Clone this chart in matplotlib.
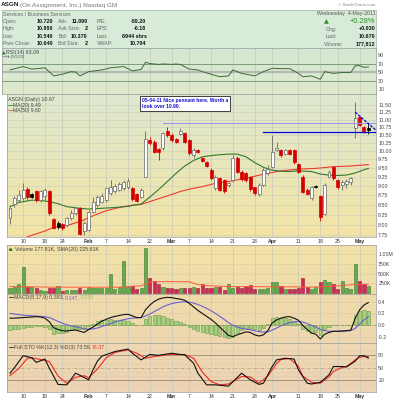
import numpy as np
import matplotlib
matplotlib.use("Agg")
import matplotlib.pyplot as plt
import matplotlib.colors as mcolors
from matplotlib.patches import Rectangle
from matplotlib.ticker import FixedLocator, NullLocator, FixedFormatter
from matplotlib.textpath import TextPath
from matplotlib.font_manager import FontProperties

plt.rcParams['font.family'] = ['Liberation Sans', 'DejaVu Sans']

# ---------------- daily data: ASGN, 5-Jan-2011 .. 4-May-2011 ----------------
opens = [8.16, 8.52, 8.62, 8.67, 8.91, 8.77, 8.85, 8.62, 8.73, 8.85,
         8.14, 8.05, 8.01, 7.99, 8.16, 8.28, 8.41, 7.85, 7.87, 8.32,
         8.49, 8.58, 8.62, 8.82, 8.85, 8.89, 8.94, 8.96, 8.94, 8.78,
         8.71, 9.26, 10.34, 10.29, 10.06, 10.09, 10.64, 10.50, 10.38, 10.54,
         10.55, 10.34, 9.88, 10.04, 9.80, 9.69, 9.44, 8.94, 9.21, 9.15,
         9.03, 9.16, 9.80, 9.40, 9.35, 9.24, 8.96, 8.78, 9.03, 9.35,
         9.54, 10.04, 10.04, 9.92, 10.02, 10.02, 9.62, 9.26, 8.90, 8.67,
         9.00, 8.73, 8.27, 9.26, 9.52, 9.16, 9.03, 9.05, 9.11, 10.74,
         11.08, 10.76, 10.72]
highs = [8.45, 8.73, 8.89, 9.07, 8.98, 8.80, 8.90, 8.88, 8.94, 8.89,
         8.16, 8.08, 8.05, 8.20, 8.37, 8.45, 8.45, 8.10, 8.37, 8.71,
         8.76, 8.80, 8.98, 9.16, 9.05, 9.10, 9.16, 9.21, 8.98, 8.82,
         8.94, 10.62, 10.45, 10.34, 10.09, 10.60, 10.77, 10.55, 10.42, 10.71,
         10.60, 10.36, 10.09, 10.07, 9.83, 9.71, 9.49, 9.30, 9.26, 9.18,
         9.10, 9.88, 9.85, 9.44, 9.38, 9.28, 8.98, 9.07, 9.49, 9.60,
         10.50, 10.29, 10.07, 10.08, 10.05, 10.05, 9.65, 9.30, 8.93, 9.00,
         9.02, 8.76, 9.07, 9.44, 9.56, 9.18, 9.16, 9.18, 9.25, 11.62,
         11.12, 10.80, 10.89]
lows = [8.03, 8.45, 8.58, 8.62, 8.65, 8.67, 8.58, 8.58, 8.62, 8.24,
        7.90, 7.90, 7.88, 7.95, 8.12, 8.24, 7.75, 7.76, 7.85, 8.28,
        8.45, 8.54, 8.58, 8.76, 8.80, 8.85, 8.89, 8.92, 8.60, 8.56,
        8.67, 9.24, 10.20, 9.93, 9.73, 10.04, 10.45, 10.29, 10.24, 10.50,
        10.24, 9.88, 9.78, 9.93, 9.69, 9.52, 9.16, 8.89, 8.85, 8.82,
        8.98, 9.12, 9.35, 9.14, 9.12, 8.87, 8.76, 8.74, 9.00, 9.30,
        9.50, 10.00, 9.83, 9.88, 9.88, 9.62, 9.36, 8.80, 8.76, 8.63,
        8.95, 8.08, 8.24, 9.22, 9.16, 8.92, 8.89, 8.95, 9.02, 10.40,
        10.80, 10.55, 10.54]
closes = [8.41, 8.67, 8.76, 8.89, 8.69, 8.70, 8.62, 8.85, 8.90, 8.28,
          7.93, 7.95, 7.92, 8.16, 8.30, 8.41, 7.78, 8.05, 8.32, 8.58,
          8.69, 8.73, 8.94, 8.98, 8.99, 9.05, 9.12, 9.14, 8.64, 8.60,
          8.89, 10.39, 10.26, 9.98, 9.97, 10.55, 10.50, 10.33, 10.29, 10.63,
          10.29, 9.93, 10.04, 9.97, 9.71, 9.57, 9.21, 9.26, 8.89, 8.86,
          9.07, 9.78, 9.40, 9.18, 9.15, 8.91, 8.80, 9.03, 9.44, 9.46,
          9.98, 10.09, 9.87, 10.04, 9.92, 9.67, 9.40, 8.83, 8.79, 8.96,
          8.97, 8.20, 9.03, 9.38, 9.21, 8.96, 9.12, 9.14, 9.21, 11.07,
          10.82, 10.64, 10.67]
volume_k = [138, 164, 232, 663, 164, 164, 120, 77, 60, 138,
            138, 181, 52, 77, 77, 77, 138, 77, 164, 120,
            120, 120, 138, 491, 95, 164, 827, 164, 190, 95,
            120, 1154, 379, 310, 224, 164, 138, 138, 95, 138,
            138, 120, 164, 120, 224, 138, 120, 164, 164, 77,
            224, 120, 146, 120, 190, 207, 95, 103, 95, 120,
            293, 293, 190, 103, 103, 103, 120, 379, 164, 95,
            164, 276, 336, 276, 224, 95, 310, 120, 95, 740,
            310, 232, 178]

# overlays / indicators (session index, value)
ma20_idx = [0, 2, 5, 8, 11, 13, 16, 18, 21, 24, 27, 30, 32, 34, 36, 38, 40, 42, 44, 47,
            50, 52, 54, 56, 58, 60, 62, 64, 66, 69, 71, 73, 75, 77, 79, 81, 82]
ma20_val = [8.45, 8.56, 8.62, 8.60, 8.53, 8.45, 8.41, 8.39, 8.41, 8.43, 8.46, 8.52, 8.70, 8.90,
            9.12, 9.35, 9.56, 9.72, 9.83, 9.88, 9.91, 9.91, 9.83, 9.66, 9.52, 9.44, 9.41, 9.40,
            9.42, 9.40, 9.33, 9.30, 9.29, 9.30, 9.36, 9.45, 9.49]
ma50_idx = [1, 5, 8, 10, 13, 16, 19, 22, 25, 28, 30, 33, 36, 39, 41, 44, 47, 51, 55, 59,
            62, 66, 70, 74, 78, 82]
ma50_val = [7.60, 7.75, 7.85, 7.94, 7.98, 8.08, 8.22, 8.35, 8.43, 8.49, 8.51, 8.62, 8.73, 8.85,
            8.91, 8.98, 9.07, 9.14, 9.24, 9.35, 9.42, 9.47, 9.49, 9.54, 9.56, 9.60]
vsma_idx = [0, 5, 10, 15, 20, 25, 28, 30, 31, 32, 35, 38, 41, 43, 45, 50, 55, 60, 65, 68,
            72, 75, 79, 82]
vsma_val = [165, 160, 150, 150, 150, 150, 175, 185, 230, 290, 293, 293, 290, 215, 190, 165,
            165, 160, 160, 150, 165, 185, 220, 225.61]
rsi_idx = [0, 3, 5, 8, 10, 12, 14, 15, 16, 18, 21, 23, 26, 28, 30, 31, 32, 34, 35, 37,
           38, 39, 41, 43, 44, 46, 48, 50, 51, 53, 56, 58, 60, 62, 64, 66, 67, 69, 71, 72,
           74, 76, 78, 79, 80, 81, 82]
rsi_val = [56, 64, 58, 61, 42, 46, 52, 51, 42, 52, 56, 61, 64, 54, 57, 74, 71, 69, 70, 69,
           70, 69, 58, 56, 52, 46, 40, 42, 56, 48, 42, 52, 60, 59, 59, 48, 40, 42, 34, 52,
           48, 50, 50, 66, 66, 62, 63.09]
macd_line = [0.12, 0.12, 0.125, 0.13, 0.135, 0.14, 0.145, 0.14, 0.12, 0.06,
             -0.04, -0.07, -0.09, -0.095, -0.085, -0.08, -0.10, -0.12, -0.07, -0.03,
             0.02, 0.07, 0.10, 0.13, 0.15, 0.165, 0.18, 0.185, 0.16, 0.13,
             0.13, 0.26, 0.34, 0.40, 0.44, 0.46, 0.47, 0.465, 0.45, 0.44,
             0.42, 0.37, 0.31, 0.25, 0.20, 0.15, 0.10, 0.04, -0.03, -0.10,
             -0.17, -0.19, -0.16, -0.135, -0.11, -0.12, -0.16, -0.18, -0.16, -0.09,
             0.04, 0.09, 0.12, 0.14, 0.145, 0.12, 0.085, 0.0, -0.07, -0.13,
             -0.15, -0.23, -0.15, -0.12, -0.10, -0.10, -0.095, -0.09, -0.08, 0.12,
             0.26, 0.34, 0.383]
macd_signal = [0.20, 0.19, 0.18, 0.17, 0.165, 0.16, 0.155, 0.15, 0.145, 0.13,
               0.10, 0.065, 0.035, 0.01, -0.01, -0.025, -0.04, -0.06, -0.065, -0.06,
               -0.045, -0.02, 0.005, 0.03, 0.055, 0.075, 0.095, 0.11, 0.12, 0.125,
               0.13, 0.155, 0.19, 0.23, 0.27, 0.31, 0.34, 0.365, 0.38, 0.39,
               0.395, 0.39, 0.375, 0.35, 0.32, 0.285, 0.245, 0.20, 0.15, 0.10,
               0.045, 0.0, -0.03, -0.05, -0.065, -0.075, -0.09, -0.105, -0.115, -0.11,
               -0.08, -0.045, -0.01, 0.02, 0.045, 0.06, 0.065, 0.055, 0.03, 0.0,
               -0.03, -0.07, -0.09, -0.10, -0.10, -0.10, -0.10, -0.095, -0.09, -0.05,
               0.02, 0.09, 0.147]
stok_idx = [0, 1, 3, 5, 6, 8, 9, 11, 13, 15, 16, 18, 19, 20, 21, 24, 27, 28, 30, 32,
            34, 37, 39, 40, 42, 43, 45, 47, 50, 53, 55, 57, 58, 60, 61, 63, 65, 66, 68, 69,
            71, 73, 74, 76, 77, 79, 80, 81, 82]
stok_val = [37, 50, 79, 74, 63, 71, 49, 10, 9, 37, 32, 21, 45, 66, 78, 89, 95, 85, 69, 82,
            80, 85, 82, 81, 61, 37, 9, 9, 6, 37, 21, 10, 13, 53, 69, 73, 71, 45, 13, 11,
            15, 33, 53, 53, 52, 66, 79, 79, 73.59]
stod_idx = [0, 2, 4, 5, 7, 9, 11, 13, 15, 17, 18, 20, 22, 24, 27, 29, 31, 33, 35, 37,
            40, 42, 44, 46, 48, 50, 53, 55, 57, 59, 61, 62, 64, 66, 67, 69, 71, 73, 74, 76,
            77, 79, 80, 81, 82]
stod_val = [31, 48, 73, 74, 70, 65, 30, 13, 27, 31, 26, 47, 74, 87, 93, 85, 73, 77, 80, 82,
            82, 73, 40, 17, 9, 11, 29, 28, 13, 30, 60, 70, 72, 54, 30, 15, 13, 28, 41, 51,
            53, 69, 75, 77, 76.37]

# chart notes
resistance_level = 10.90
support_level = 10.61
support_start = 58
resistance_start = 35
pennant_idx = [79, 83.7]
pennant_val = [11.25, 10.66]

# axes labelling
date_tick_idx = [3, 8, 12, 18, 22, 27, 32, 37, 41, 46, 51, 56, 60, 66, 71, 75, 80]
date_tick_labels = ['10', '18', '24', 'Feb', '7', '14', '22', 'Mar', '7', '14', '21', '28',
                    'Apr', '11', '18', '25', 'May']
month_labels = ['Feb', 'Mar', 'Apr', 'May']
price_ticks = [7.75, 8.00, 8.25, 8.50, 8.75, 9.00, 9.25, 9.50, 9.75, 10.00, 10.25,
               10.50, 10.75, 11.00, 11.25, 11.50]
rsi_ticks = [90, 70, 50, 30, 10]
vol_ticks = [250, 500, 750, 1000]
vol_tick_labels = ['250K', '500K', '750K', '1.00M']
macd_ticks = [0.4, 0.2, 0.0, -0.2]
macd_tick_labels = ['0.4', '0.2', '0.0', '-0.2']
sto_ticks = [80, 50, 20]

# ---------------- layout ----------------
W, H = 400, 400
STEP = 4.37
X0 = 10.0
n = len(closes)
idx = np.arange(n)

fig = plt.figure(figsize=(4, 4), dpi=100)


def fx(x):
    return x / W


def fy(y):
    return 1 - y / H


def panel(x0, y0, x1, y1, ylim, top, bottom, log=False):
    rect = [fx(x0), fy(y1), (x1 - x0) / W, (y1 - y0) / H]
    # gradient backdrop in its own axes underneath the data axes
    bg = fig.add_axes(rect)
    bg.set_axis_off()
    c0 = np.array(mcolors.to_rgb(top))
    c1 = np.array(mcolors.to_rgb(bottom))
    t = np.linspace(0, 1, 100)[:, None]
    img = (1 - t) * c0 + t * c1
    bg.imshow(img[:, None, :], extent=(0, 1, 0, 1), aspect='auto', interpolation='bilinear')
    bg.set_xlim(0, 1)
    bg.set_ylim(0, 1)

    ax = fig.add_axes(rect)
    ax.set_facecolor('none')
    if log:
        ax.set_yscale('log')
    ax.set_xlim((x0 - X0) / STEP, (x1 - X0) / STEP)
    ax.set_ylim(*ylim)
    ax.set_autoscale_on(False)
    for sp in ax.spines.values():
        sp.set_color('#9a9a9a')
        sp.set_linewidth(0.5)
    ax.yaxis.tick_right()
    ax.tick_params(axis='y', length=0, pad=1.6, labelsize=3.8, labelcolor='#444444')
    ax.tick_params(axis='x', length=0, labelbottom=False)
    ax.yaxis.set_minor_locator(NullLocator())
    ax.set_xticks(date_tick_idx)
    for tk in date_tick_idx:
        ax.axvline(tk, color='#c6c8bc', lw=0.5, zorder=1)
    return ax


def text_px_width(s, size, weight='normal'):
    fp = FontProperties(family=['Liberation Sans', 'DejaVu Sans'], weight=weight)
    return TextPath((0, 0), s, size=size, prop=fp).get_extents().width * 100 / 72


def text_run(x, y, pieces, size):
    for s, color, weight in pieces:
        fig.text(fx(x), fy(y), s, fontsize=size, color=color, fontweight=weight,
                 ha='left', va='center')
        x += text_px_width(s, size, weight) + 1.6


def dash(x, y, color):
    fig.text(fx(x), fy(y), '\u2014', fontsize=3.6, color=color, ha='left', va='center',
             fontweight='bold', family=['DejaVu Sans'])


# ---------------- header block ----------------
ax_info = fig.add_axes([fx(1.5), fy(48), (376 - 1.5) / W, 38 / H])
ax_info.set_xticks([])
ax_info.set_yticks([])
ax_info.set_facecolor('#d8ebd8')
for sp in ax_info.spines.values():
    sp.set_color('#9fb59f')
    sp.set_linewidth(0.5)

text_run(1.0, 5, [('ASGN', '#222222', 'bold'),
                  ('(On Assignment, Inc.) Nasdaq GM', '#777777', 'normal')], 4.6)
fig.text(fx(375.5), fy(4.5), '\u00a9 StockCharts.com', fontsize=3.2, color='#888888',
         ha='right', va='center')
fig.text(fx(2.7), fy(14), 'Services / Business Services', fontsize=3.8, color='#666666',
         va='center')

rows = [('Open:', '10.720', 'Ask:', '11.090', 'P/E:', '-59.20'),
        ('High:', '10.880', 'Ask Size:', '2', 'EPS:', '-0.18'),
        ('Low:', '10.540', 'Bid:', '10.370', 'Last:', '6944 shrs'),
        ('Prev Close:', '10.640', 'Bid Size:', '2', 'VWAP:', '10.704')]
row_y = [21.3, 28.7, 36.0, 43.3]
for (l1, v1, l2, v2, l3, v3), ry in zip(rows, row_y):
    for lab, lx in ((l1, 2.7), (l2, 58.3), (l3, 96.7)):
        fig.text(fx(lx), fy(ry), lab, fontsize=3.8, color='#666666', va='center')
    for val, vx in ((v1, 53.5), (v2, 87.5), (v3, 146.5)):
        fig.text(fx(vx), fy(ry), val, fontsize=3.9, color='#111111', fontweight='bold',
                 ha='right', va='center')

fig.text(fx(375.5), fy(14), 'Wednesday  4-May-2011', fontsize=3.8, color='#555555',
         ha='right', va='center')
fig.text(fx(323.5), fy(21.5), '\u25b2', fontsize=4.6, color='#2a8a2a', va='center',
         family=['DejaVu Sans'])
fig.text(fx(375.5), fy(21.5), '+0.28%', fontsize=5.4, color='#2a8a2a', ha='right',
         va='center')
for lab, val, ry in (('Chg:', '+0.030', 29.0), ('Last:', '10.670', 36.5),
                     ('Volume:', '177,812', 44.0)):
    fig.text(fx(326 if lab != 'Volume:' else 323.5), fy(ry), lab, fontsize=3.8,
             color='#666666', va='center')
    fig.text(fx(375.5), fy(ry), val, fontsize=3.9, color='#111111', fontweight='bold',
             ha='right', va='center')

# ---------------- RSI ----------------
ax_rsi = panel(1.5, 48, 376, 94, (-0.6, 107.6), '#d4e8d4', '#dfeacc')
ax_rsi.axhline(70, color='#6f8f6f', lw=0.6, zorder=2)
ax_rsi.axhline(30, color='#6f8f6f', lw=0.6, zorder=2)
ax_rsi.axhline(50, color='#b3bab3', lw=1.6, zorder=2)
ax_rsi.plot(rsi_idx, rsi_val, color='#3d6b3d', lw=0.7, zorder=6)
ax_rsi.yaxis.set_major_locator(FixedLocator(rsi_ticks))
ax_rsi.yaxis.set_major_formatter(FixedFormatter([str(v) for v in rsi_ticks]))
fig.text(fx(1.6), fy(52.3), '\u25b2', fontsize=3.4, color='#2a8a2a', va='center',
         family=['DejaVu Sans'])
fig.text(fx(5.5), fy(52.3), 'RSI(14) 63.09', fontsize=3.8, color='#444444', va='center')
dash(1.6, 56.8, '#7a8aa0')
fig.text(fx(5.5), fy(56.8), 'HL(50.00)', fontsize=3.2, color='#555555', va='center')

# ---------------- price ----------------
ax_p = panel(7, 94, 376, 237, (7.709, 11.89), '#dde9cf', '#f4e4a4', log=True)
ax_p.yaxis.set_major_locator(FixedLocator(price_ticks))
ax_p.yaxis.set_major_formatter(FixedFormatter(['%.2f' % v for v in price_ticks]))
for v in price_ticks:
    ax_p.axhline(v, color='#cfd0bd', lw=0.5, zorder=1)

ax_p.plot(ma50_idx, ma50_val, color='#ee3b30', lw=0.8, zorder=2)
ax_p.plot(ma20_idx, ma20_val, color='#2f7a2f', lw=0.8, zorder=2)

for i in range(n):
    o, h, l, c = opens[i], highs[i], lows[i], closes[i]
    prev = closes[i - 1] if i else o
    if c < prev:
        edge = '#d40000'
    elif c < o:
        edge = '#000000'
    else:
        edge = '#666666'
    ax_p.vlines(i, l, h, colors=edge, lw=0.6, zorder=3)
    lo, hi = min(o, c), max(o, c)
    if hi - lo < 0.012:
        hi = lo + 0.012
    face = 'white' if c > o else edge
    ax_p.add_patch(Rectangle((i - 0.34, lo), 0.68, hi - lo, facecolor=face,
                             edgecolor=edge, lw=0.5, zorder=4))

xr = ax_p.get_xlim()[1]
ax_p.plot([resistance_start, xr], [resistance_level] * 2, color='#9a9af0', lw=0.8, zorder=5)
ax_p.plot([support_start, xr], [support_level] * 2, color='#0000dd', lw=0.9, zorder=5)
ax_p.plot(pennant_idx, pennant_val, color='#0000dd', lw=0.9, ls=(0, (2.2, 1.0)), zorder=5)

ax_p.set_xticks(date_tick_idx)
ax_p.set_xticklabels(date_tick_labels)
ax_p.tick_params(axis='x', labelbottom=True, labelsize=3.8, pad=1.2, labelcolor='#333333')
for lab in ax_p.get_xticklabels():
    if lab.get_text() in month_labels:
        lab.set_fontweight('bold')

fig.text(fx(8.3), fy(100), 'ASGN (Daily) 10.67', fontsize=3.8, color='#444444', va='center')
dash(7.8, 105.2, '#2f7a2f')
fig.text(fx(12.7), fy(105.2), 'MA(20) 9.49', fontsize=3.6, color='#444444', va='center')
dash(7.8, 110.6, '#ee3b30')
fig.text(fx(12.7), fy(110.6), 'MA(50) 9.60', fontsize=3.6, color='#444444', va='center')

fig.text(fx(141.6), fy(103.3), '05-04-11 Nice pennant here. Worth a\nlook over 10.90.',
         fontsize=3.6, color='#1010cc', fontweight='bold', va='center', ha='left',
         linespacing=1.25,
         bbox=dict(boxstyle='square,pad=0.35', facecolor='white', edgecolor='#222222',
                   linewidth=0.6))

# ---------------- volume ----------------
ax_v = panel(7, 245, 376, 294, (-26, 1240), '#f2e2a8', '#f0dcaa')
ax_v.yaxis.set_major_locator(FixedLocator(vol_ticks))
ax_v.yaxis.set_major_formatter(FixedFormatter(vol_tick_labels))
for v in vol_ticks:
    ax_v.axhline(v, color='#ddd0a6', lw=0.5, zorder=1)
up = [closes[i] >= (closes[i - 1] if i else opens[i]) for i in range(n)]
ax_v.bar(idx, volume_k, width=0.72,
         color=['#62ab4e' if u else '#cd2b58' for u in up],
         edgecolor=['#3c7a2e' if u else '#981a3e' for u in up], lw=0.4, zorder=3)
ax_v.plot(vsma_idx, vsma_val, color='#ff5a3c', lw=0.7, zorder=6)
fig.text(fx(9.0), fy(249.3), '\u2585', fontsize=3.0, color='#2a8a2a',
         va='center', family=['DejaVu Sans'])
fig.text(fx(15), fy(249.3), 'Volume 177.81K, SMA(20) 225.61K', fontsize=3.8,
         color='#444444', va='center')

# ---------------- MACD ----------------
ax_m = panel(7, 294, 376, 343, (-0.297, 0.526), '#f0dcaa', '#eed7b0')
ax_m.yaxis.set_major_locator(FixedLocator(macd_ticks))
ax_m.yaxis.set_major_formatter(FixedFormatter(macd_tick_labels))
for v in (0.4, 0.2, -0.2):
    ax_m.axhline(v, color='#ddcca8', lw=0.5, zorder=1)
ax_m.axhline(0, color='#8f9c6c', lw=0.6, ls=(0, (4, 1.5, 1, 1.5)), zorder=2)
hist = np.array(macd_line) - np.array(macd_signal)
ax_m.bar(idx, hist, width=0.72, color='#a6d07e', edgecolor='#6b9a4c', lw=0.4, zorder=3)
ax_m.plot(idx, macd_signal, color='#6a5fd0', lw=0.8, zorder=6)
ax_m.plot(idx, macd_line, color='#111111', lw=0.8, zorder=7)
dash(8.5, 297.3, '#111111')
text_run(14.5, 297.3, [('MACD(8,17,9) 0.383,', '#444444', 'normal'),
                       ('0.147,', '#6a5fd0', 'normal'),
                       ('0.236', '#8ec66a', 'normal')], 3.8)

# ---------------- full stochastics ----------------
ax_s = panel(7, 343, 376, 392, (-8.2, 109.6), '#eed8b2', '#ecd3b4')
ax_s.yaxis.set_major_locator(FixedLocator(sto_ticks))
ax_s.yaxis.set_major_formatter(FixedFormatter([str(v) for v in sto_ticks]))
for v in (10, 30, 40, 60, 70, 90):
    ax_s.axhline(v, color='#e2cbab', lw=0.4, zorder=1)
ax_s.axhline(80, color='#9c8a72', lw=0.6, zorder=2)
ax_s.axhline(20, color='#9c8a72', lw=0.6, zorder=2)
ax_s.axhline(50, color='#b9a786', lw=0.6, ls=(0, (4, 1.5, 1, 1.5)), zorder=2)
ax_s.plot(stod_idx, stod_val, color='#ee2a22', lw=0.8, zorder=6)
ax_s.plot(stok_idx, stok_val, color='#111111', lw=0.8, zorder=7)
ax_s.set_xticks(date_tick_idx)
ax_s.set_xticklabels(date_tick_labels)
ax_s.tick_params(axis='x', labelbottom=True, labelsize=3.8, pad=1.2, labelcolor='#333333')
for lab in ax_s.get_xticklabels():
    if lab.get_text() in month_labels:
        lab.set_fontweight('bold')
dash(8.5, 347.3, '#111111')
text_run(14.5, 347.3, [('Full STO %K(12,3) %D(3) 73.59,', '#444444', 'normal'),
                       ('76.37', '#ee2a22', 'normal')], 3.8)

fig.savefig('out.png', dpi=100)
